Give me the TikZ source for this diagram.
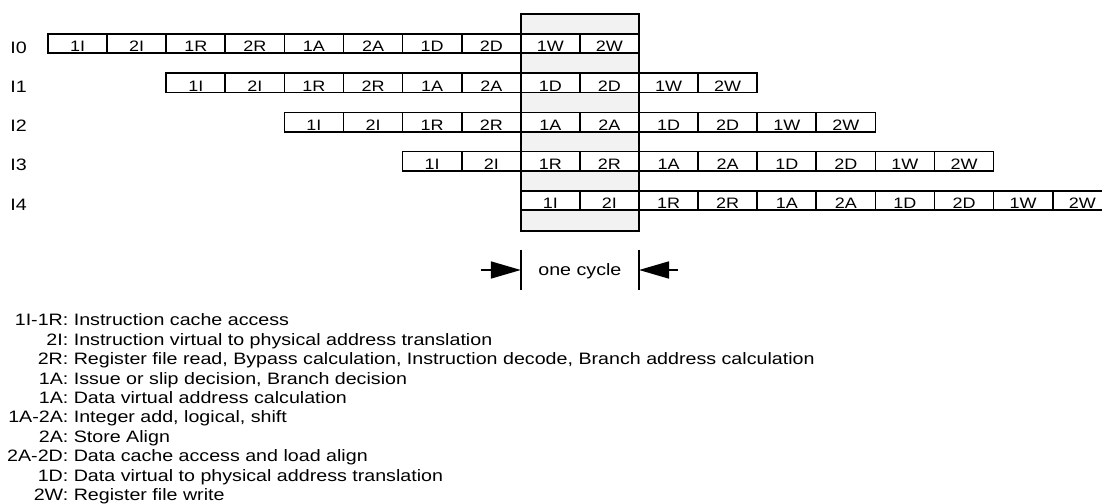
\documentclass[tikz,border=0pt]{standalone}
\usepackage{fontspec}
\setmainfont{Liberation Sans}[FakeStretch=1.19]
\usepackage{tikz}
\usetikzlibrary{arrows.meta,positioning}

\tikzset{
  stagecell/.style={draw,line width=1pt,fill=white,inner sep=0pt,outer sep=0pt,
    minimum width=1.182cm,text height=0.36cm,text depth=0.026cm,
    font=\fontsize{8.6}{10}\selectfont},
  rowname/.style={anchor=base west,inner sep=0pt,font=\fontsize{9.4}{11}\selectfont},
  keyline/.style={anchor=base west,inner sep=0pt,font=\fontsize{9.4}{11}\selectfont},
  cyclebar/.style={line width=1pt},
  cyclearrow/.style={line width=1pt,-{Triangle[length=0.6cm,width=0.34cm]}}
}

\begin{document}
\begin{tikzpicture}
\useasboundingbox (0,0) rectangle (22.04,-10.08);
% shaded cycle column
\node[draw,line width=1pt,fill=black!5,inner sep=0pt,outer sep=0pt,
  minimum width=2.364cm,minimum height=4.34cm,anchor=north west] (cycle) at (10.416,-0.28) {};
% pipeline rows
\foreach \r in {0,...,4}{
  \node[rowname] (row\r) at (0.2,{-1.066-0.784*\r}) {I\r};
  \foreach \st [count=\s from 0] in {1I,2I,1R,2R,1A,2A,1D,2D,1W,2W}
    \node[stagecell,anchor=south west] (c\r\st) at ({0.96+2.364*\r+1.182*\s},{-1.066-0.784*\r}) {\st};
}
% one cycle marker
\coordinate (lbtop) at (10.416,-5.0);
\coordinate (lbbot) at (10.416,-5.8);
\coordinate (rbtop) at (12.78,-5.0);
\coordinate (rbbot) at (12.78,-5.8);
\draw[cyclebar] (lbtop) -- (lbbot);
\draw[cyclebar] (rbtop) -- (rbbot);
\coordinate (lfrom) at (9.614,-5.4);
\coordinate (rfrom) at (13.56,-5.4);
\draw[cyclearrow] (lfrom) -- (lfrom -| lbtop);
\draw[cyclearrow] (rfrom) -- (rfrom -| rbtop);
\node[font=\fontsize{9.4}{11}\selectfont,inner sep=0pt] (onecycle) at (11.598,-5.434) {one cycle};
% key
\foreach \lbl/\txt [count=\k from 0] in {
  1I-1R/Instruction cache access,
  2I/Instruction virtual to physical address translation,
  2R/{Register file read, Bypass calculation, Instruction decode, Branch address calculation},
  1A/{Issue or slip decision, Branch decision},
  1A/Data virtual address calculation,
  1A-2A/{Integer add, logical, shift},
  2A/Store Align,
  2A-2D/Data cache access and load align,
  1D/Data virtual to physical address translation,
  2W/Register file write}
  \node[keyline] (key\k) at (1.36,{-6.52-0.388*\k}) {\llap{\lbl:} \txt};
\end{tikzpicture}
\end{document}
